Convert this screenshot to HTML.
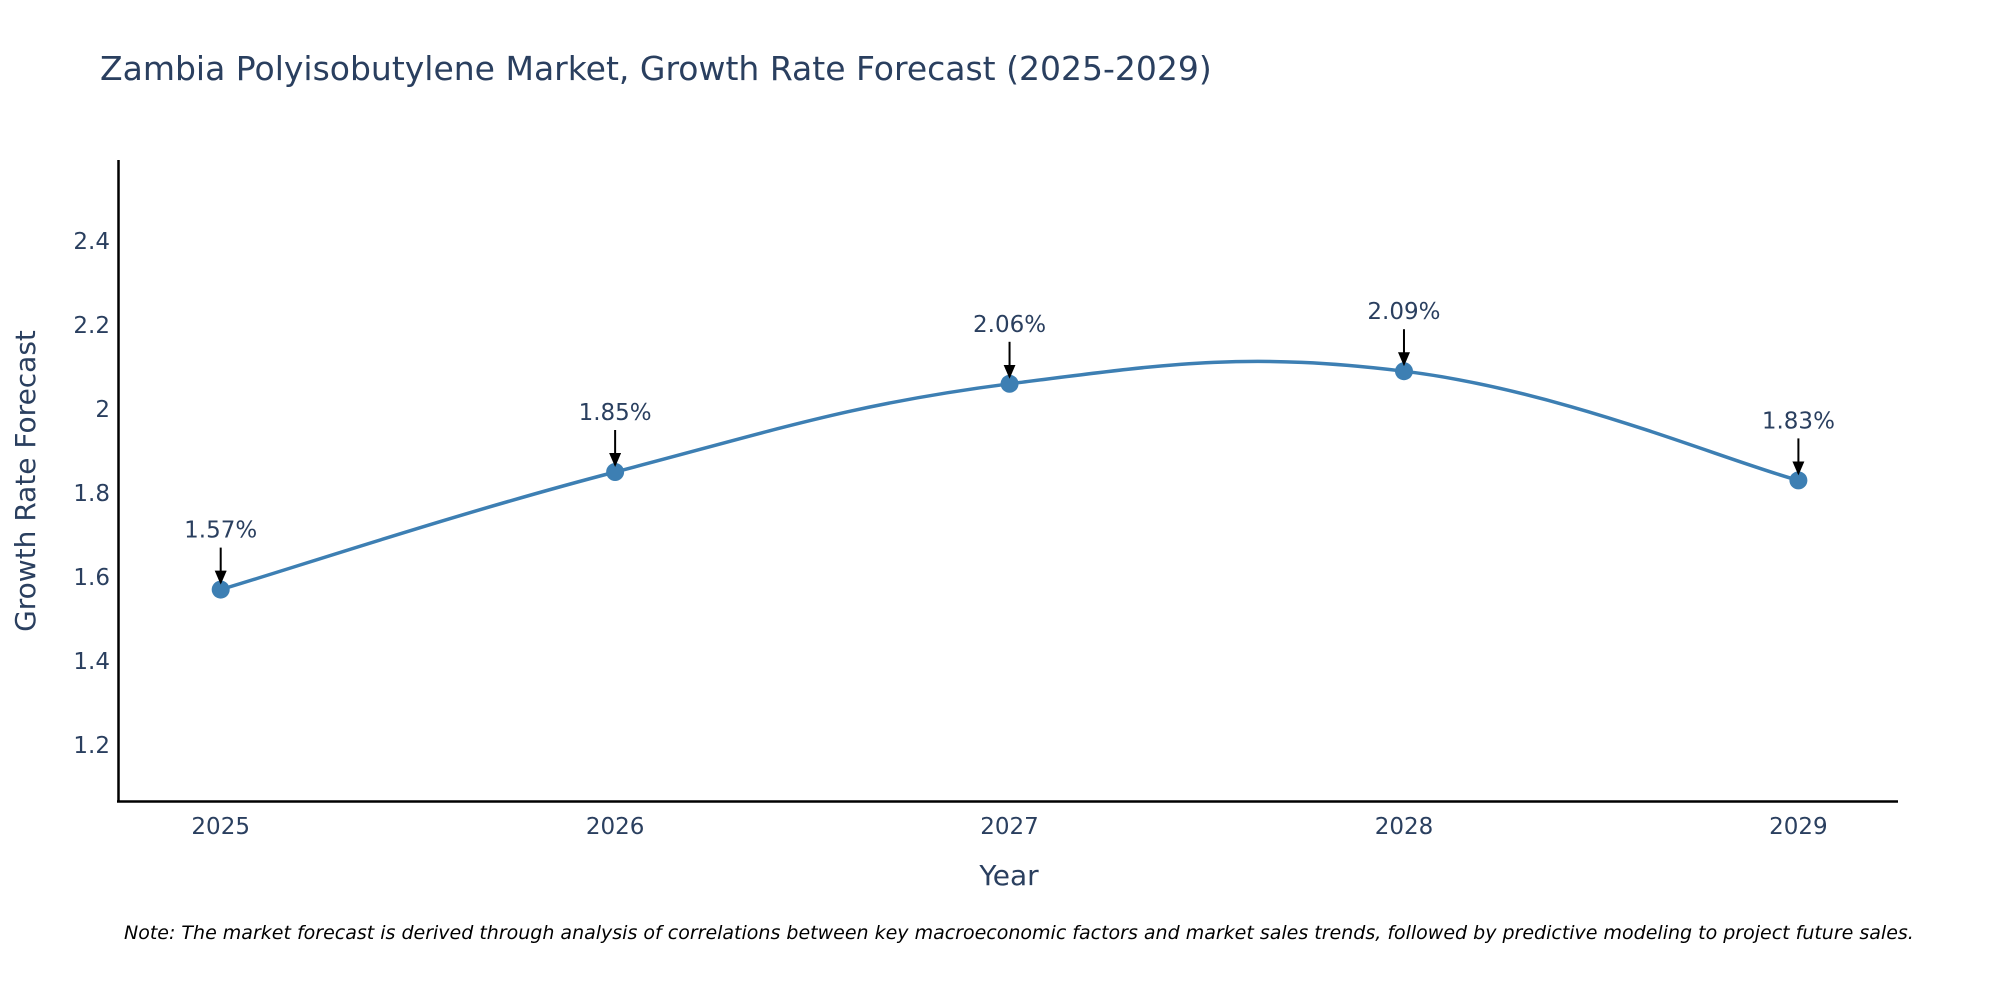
<!DOCTYPE html>
<html><head><meta charset="utf-8"><style>
body{margin:0;background:#fff;}
svg{display:block;font-family:"DejaVu Sans","Liberation Sans",sans-serif;}
</style></head><body>
<svg id="chart" width="2000" height="1000" xmlns="http://www.w3.org/2000/svg">
<text x="100" y="80" font-size="33" fill="#2a3f5f">Zambia Polyisobutylene Market, Growth Rate Forecast (2025-2029)</text>
<g id="yticks"></g>
<g id="xticks"></g>
<line x1="118.5" y1="160" x2="118.5" y2="802" stroke="#000" stroke-width="2.5"/>
<line x1="117" y1="801.5" x2="1898" y2="801.5" stroke="#000" stroke-width="2.5"/>
<text transform="translate(35,481) rotate(-90)" text-anchor="middle" font-size="28" fill="#2a3f5f">Growth Rate Forecast</text>
<text x="1009" y="885" text-anchor="middle" font-size="28" fill="#2a3f5f">Year</text>
<path id="line" fill="none" stroke="#3d7fb3" stroke-width="3.5"/>
<g id="points"></g>
<defs><marker id="ah" markerWidth="14" markerHeight="12" refX="12" refY="6" orient="auto" markerUnits="userSpaceOnUse" viewBox="0 0 14 12"><path d="M0,0 L14,6 L0,12 z" fill="#000"/></marker></defs>
<text x="124" y="939" font-size="19" font-style="italic" fill="#000">Note: The market forecast is derived through analysis of correlations between key macroeconomic factors and market sales trends, followed by predictive modeling to project future sales.</text>
</svg>
<script>
const years = [2025, 2026, 2027, 2028, 2029];
const rates = [1.57, 1.85, 2.06, 2.09, 1.83];
const labels = ["1.57%", "1.85%", "2.06%", "2.09%", "1.83%"];
const yTicks = [1.2, 1.4, 1.6, 1.8, 2, 2.2, 2.4];

const NS = "http://www.w3.org/2000/svg";
function xS(v){ return 220.7 + (v - 2025) * (1798.4 - 220.7) / 4; }
function yS(v){ return 745 + (v - 1.2) * (241 - 745) / 1.2; }
function mk(tag, attrs, parent){ const e = document.createElementNS(NS, tag); for (const k in attrs) e.setAttribute(k, attrs[k]); parent.appendChild(e); return e; }

const yt = document.getElementById('yticks');
yTicks.forEach(t => {
  const e = mk('text', {x: 110, y: yS(t) + 8, 'text-anchor': 'end', 'font-size': 23, fill: '#2a3f5f'}, yt);
  
  
  e.textContent = String(t);
});
const xt = document.getElementById('xticks');
years.forEach(t => {
  const e = mk('text', {x: xS(t), y: 834, 'text-anchor': 'middle', 'font-size': 23, fill: '#2a3f5f'}, xt);
  
  
  e.textContent = String(t);
});

const P = years.map((y, i) => [xS(y), yS(rates[i])]);
let d = 'M' + P[0][0] + ',' + P[0][1];
const k = 0.2;
for (let i = 0; i < P.length - 1; i++) {
  const p0 = P[Math.max(i - 1, 0)], p1 = P[i], p2 = P[i + 1], p3 = P[Math.min(i + 2, P.length - 1)];
  const c1 = [p1[0] + (p2[0] - p0[0]) * k, p1[1] + (p2[1] - p0[1]) * k];
  const c2 = [p2[0] - (p3[0] - p1[0]) * k, p2[1] - (p3[1] - p1[1]) * k];
  d += ` C${c1[0]},${c1[1]} ${c2[0]},${c2[1]} ${p2[0]},${p2[1]}`;
}
document.getElementById('line').setAttribute('d', d);

const pts = document.getElementById('points');
P.forEach((p, i) => {
  const c = mk('circle', {cx: p[0], cy: p[1], r: 9, fill: '#3d7fb3'}, pts);
  
  
  const a = mk('line', {x1: p[0], y1: p[1] - 42, x2: p[0], y2: p[1] - 7, stroke: '#000', 'stroke-width': 2, 'marker-end': 'url(#ah)'}, pts);
  
  
  const t = mk('text', {x: p[0], y: p[1] - 52, 'text-anchor': 'middle', 'font-size': 23, fill: '#2a3f5f'}, pts);
  
  
  t.textContent = labels[i];
});
</script>
</body></html>
